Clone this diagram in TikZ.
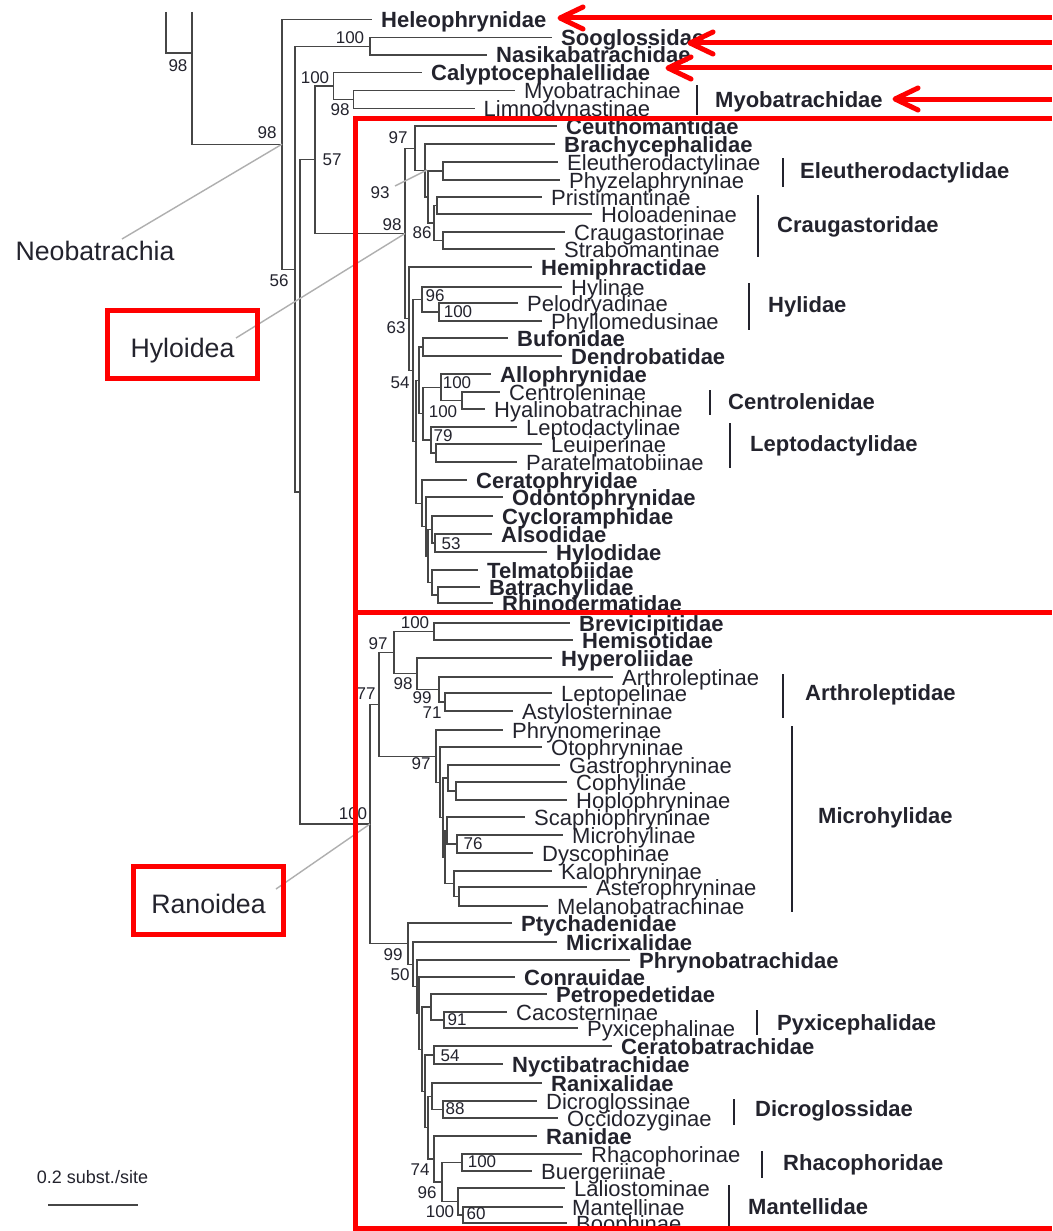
\documentclass[tikz,border=0pt]{standalone}
\usepackage{fontspec}
\setmainfont{Liberation Sans}
\usetikzlibrary{calc}
\definecolor{txt}{RGB}{35,35,45}
\definecolor{lin}{RGB}{70,70,70}
\definecolor{rd}{RGB}{255,0,0}
\definecolor{ptrc}{RGB}{175,175,175}
\begin{document}
\begin{tikzpicture}[x=1pt,y=-1pt,
  br/.style={draw=lin,line width=1.2pt},
  leafR/.style={anchor=west,inner xsep=9pt,inner ysep=0pt,text height=16pt,text depth=0pt,text=txt,font=\fontsize{22}{24}\selectfont},
  leafB/.style={leafR,font=\fontsize{22}{24}\selectfont\bfseries},
  sup/.style={inner sep=0pt,text=txt,font=\fontsize{17}{18}\selectfont},
  fam/.style={anchor=west,inner sep=0pt,text height=16pt,text depth=0pt,text=txt,font=\fontsize{22}{24}\selectfont\bfseries},
  fbar/.style={draw=txt,line width=2.6pt},
  clade/.style={text=txt,font=\fontsize{26.7}{28}\selectfont},
  cladebox/.style={clade,draw=rd,line width=5pt,minimum width=150pt,minimum height=68pt,inner sep=0pt,text height=26pt,text depth=0pt},
  ptr/.style={draw=ptrc,line width=1.4pt},
  redl/.style={draw=rd,line width=5pt},
  redarr/.style={draw=rd,line width=5pt,line cap=round,line join=round},
]
\useasboundingbox[fill=white] (0,0) rectangle (1052,1231);

% ---------- internal node coordinates ----------
\coordinate (ogA) at (166,12);
\coordinate (ogB) at (192,12);
\coordinate (ogC) at (192,53);
\coordinate (n282) at (282,144.2);
\coordinate (n295) at (295,269.1);
\coordinate (n300) at (300,491.9);
\coordinate (soo) at (370,46.4);
\coordinate (n315) at (315,159.7);
\coordinate (cal) at (333.5,85.9);
\coordinate (myo) at (353.5,99.5);
\coordinate (hyl) at (405,233.5);
\coordinate (ceu) at (415,148.25);
\coordinate (bra) at (425,170.5);
\coordinate (ec) at (428,197);
\coordinate (ele) at (443,171);
\coordinate (crB) at (434,223);
\coordinate (crA) at (437,205.5);
\coordinate (crC) at (443,240.5);
\coordinate (hem) at (409,318.8);
\coordinate (nhy) at (413,370.6);
\coordinate (hyli) at (422,299.5);
\coordinate (pp) at (439,312);
\coordinate (na) at (416,441.8);
\coordinate (g1) at (419,380.3);
\coordinate (bd) at (423,347);
\coordinate (hcl) at (423,413.6);
\coordinate (allo) at (441,387.25);
\coordinate (cen) at (462,400.5);
\coordinate (l1) at (431,440);
\coordinate (l2) at (436,453);
\coordinate (g2) at (422,503.25);
\coordinate (odo) at (426,526.5);
\coordinate (ncr) at (428,556);
\coordinate (cyc) at (432,529.5);
\coordinate (ah) at (435,543);
\coordinate (tel) at (432,582.5);
\coordinate (batr) at (438,595);
\coordinate (ran) at (370,824);
\coordinate (ru) at (379,704.4);
\coordinate (r97) at (394,652.6);
\coordinate (brev) at (434,631.5);
\coordinate (hyp) at (417,673.75);
\coordinate (arth) at (439,689.5);
\coordinate (ast) at (445,702);
\coordinate (mroot) at (436,756.1);
\coordinate (moto) at (440,782.3);
\coordinate (mb) at (443,817.6);
\coordinate (mgas) at (448,778);
\coordinate (mcoph) at (456,791);
\coordinate (ma) at (445,857.1);
\coordinate (msca) at (447,830.5);
\coordinate (mmic) at (457,844);
\coordinate (mkal) at (454,883.75);
\coordinate (mast) at (459,896.5);
\coordinate (pty) at (408,943.6);
\coordinate (mic) at (413,964.3);
\coordinate (phr) at (417,986.5);
\coordinate (con) at (419,1013.1);
\coordinate (pc) at (422,1049.2);
\coordinate (petro) at (431,1007);
\coordinate (pyx) at (444,1020);
\coordinate (cr) at (425,1091.3);
\coordinate (cer) at (434,1055);
\coordinate (rr) at (428,1127.6);
\coordinate (ranix) at (432,1096.25);
\coordinate (dic) at (443,1109.5);
\coordinate (rn) at (434,1159);
\coordinate (rm) at (442,1182);
\coordinate (rhac) at (462,1162.5);
\coordinate (mant1) at (458,1201.5);
\coordinate (mant2) at (463,1215);

% ---------- leaves ----------
\node[leafB] (heleo) at (372,19.3) {Heleophrynidae};
\node[leafB] (sooglo) at (552,37.7) {Sooglossidae};
\node[leafB] (nasika) at (487,55) {Nasikabatrachidae};
\node[leafB] (calyp) at (422,72.3) {Calyptocephalellidae};
\node[leafR] (myobi) at (515,90.7) {Myobatrachinae};
\node[leafR] (limno) at (474.5,108.3) {Limnodynastinae};

\node[leafB] (ceuth) at (557,126) {Ceuthomantidae};
\node[leafB] (brachy) at (555,144) {Brachycephalidae};
\node[leafR] (eleuth) at (558,162) {Eleutherodactylinae};
\node[leafR] (phyzel) at (560,180) {Phyzelaphryninae};
\node[leafR] (prist) at (542,197) {Pristimantinae};
\node[leafR] (holo) at (592,214) {Holoadeninae};
\node[leafR] (craug) at (565,232) {Craugastorinae};
\node[leafR] (strabo) at (555,249) {Strabomantinae};
\node[leafB] (hemiph) at (532,267) {Hemiphractidae};
\node[leafR] (hylin) at (562,287) {Hylinae};
\node[leafR] (pelo) at (518,303) {Pelodryadinae};
\node[leafR] (phyllo) at (542,321) {Phyllomedusinae};
\node[leafB] (bufo) at (508,338) {Bufonidae};
\node[leafB] (dendro) at (562,356) {Dendrobatidae};
\node[leafB] (allo_l) at (491,374) {Allophrynidae};
\node[leafR] (centr) at (500,392) {Centroleninae};
\node[leafR] (hyalino) at (485,409) {Hyalinobatrachinae};
\node[leafR] (leptod) at (517,427) {Leptodactylinae};
\node[leafR] (leuip) at (542,444) {Leuiperinae};
\node[leafR] (paratel) at (517,462) {Paratelmatobiinae};
\node[leafB] (cerato) at (467,480) {Ceratophryidae};
\node[leafB] (odonto) at (503,497) {Odontophrynidae};
\node[leafB] (cyclo) at (493,516) {Cycloramphidae};
\node[leafB] (alsod) at (492,534) {Alsodidae};
\node[leafB] (hylod) at (547,552) {Hylodidae};
\node[leafB] (telma) at (478,570) {Telmatobiidae};
\node[leafB] (batrl) at (480,587) {Batrachylidae};
\node[leafB] (rhino) at (493,603) {Rhinodermatidae};

\node[leafB] (brevi) at (570,623) {Brevicipitidae};
\node[leafB] (hemis) at (573,640) {Hemisotidae};
\node[leafB] (hyper) at (552,658) {Hyperoliidae};
\node[leafR] (arthl) at (613,677) {Arthroleptinae};
\node[leafR] (leptop) at (552,693) {Leptopelinae};
\node[leafR] (astyl) at (513,711) {Astylosterninae};
\node[leafR] (phrym) at (503,730) {Phrynomerinae};
\node[leafR] (otoph) at (542,747) {Otophryninae};
\node[leafR] (gastr) at (560,765) {Gastrophryninae};
\node[leafR] (cophy) at (567,782) {Cophylinae};
\node[leafR] (hoplo) at (567,800) {Hoplophryninae};
\node[leafR] (scaph) at (525,817) {Scaphiophryninae};
\node[leafR] (micrh) at (563,835) {Microhylinae};
\node[leafR] (dysco) at (533,853) {Dyscophinae};
\node[leafR] (kalop) at (552,871) {Kalophryninae};
\node[leafR] (aster) at (587,887) {Asterophryninae};
\node[leafR] (melan) at (548,906) {Melanobatrachinae};
\node[leafB] (ptych) at (512,923) {Ptychadenidae};
\node[leafB] (micrx) at (557,942) {Micrixalidae};
\node[leafB] (phryb) at (630,960) {Phrynobatrachidae};
\node[leafB] (conra) at (515,977) {Conrauidae};
\node[leafB] (petrp) at (547,994) {Petropedetidae};
\node[leafR] (cacos) at (507,1012) {Cacosterninae};
\node[leafR] (pyxil) at (578,1028) {Pyxicephalinae};
\node[leafB] (cerat) at (612,1046) {Ceratobatrachidae};
\node[leafB] (nyctb) at (503,1064) {Nyctibatrachidae};
\node[leafB] (ranix_l) at (542,1083) {Ranixalidae};
\node[leafR] (dicrl) at (537,1101) {Dicroglossinae};
\node[leafR] (occid) at (558,1118) {Occidozyginae};
\node[leafB] (ranid) at (537,1136) {Ranidae};
\node[leafR] (rhacl) at (582,1154) {Rhacophorinae};
\node[leafR] (buerg) at (532,1171) {Buergeriinae};
\node[leafR] (lalio) at (565,1188) {Laliostominae};
\node[leafR] (mantl) at (563,1207) {Mantellinae};
\node[leafR] (booph) at (567,1223) {Boophinae};

% ---------- branches ----------
\draw[br] (ogA) |- (ogC);
\draw[br] (ogB) |- (n282);
\foreach \p/\c in {n282/heleo,n282/n295,n295/soo,n295/n300,soo/sooglo,soo/nasika,
  n300/n315,n300/ran,n315/cal,n315/hyl,cal/calyp,cal/myo,myo/myobi,myo/limno,
  hyl/ceu,hyl/hem,ceu/ceuth,ceu/bra,bra/brachy,bra/ec,ec/ele,ec/crB,ele/eleuth,ele/phyzel,
  crB/crA,crB/crC,crA/prist,crA/holo,crC/craug,crC/strabo,hem/hemiph,hem/nhy,
  nhy/hyli,nhy/na,hyli/hylin,hyli/pp,pp/pelo,pp/phyllo,na/g1,na/g2,g1/bd,g1/hcl,
  bd/bufo,bd/dendro,hcl/allo,hcl/l1,allo/allo_l,allo/cen,cen/centr,cen/hyalino,
  l1/leptod,l1/l2,l2/leuip,l2/paratel,g2/cerato,g2/odo,odo/odonto,odo/ncr,
  ncr/cyc,ncr/tel,cyc/cyclo,cyc/ah,ah/alsod,ah/hylod,tel/telma,tel/batr,batr/batrl,batr/rhino}
  \draw[br] (\p) |- (\c);
\foreach \p/\c in {ran/ru,ran/pty,ru/r97,ru/mroot,r97/brev,r97/hyp,brev/brevi,brev/hemis,
  hyp/hyper,hyp/arth,arth/arthl,arth/ast,ast/leptop,ast/astyl,mroot/phrym,mroot/moto,
  moto/otoph,moto/mb,mb/mgas,mb/ma,mgas/gastr,mgas/mcoph,mcoph/cophy,mcoph/hoplo,
  ma/msca,ma/mkal,msca/scaph,msca/mmic,mmic/micrh,mmic/dysco,mkal/kalop,mkal/mast,
  mast/aster,mast/melan,pty/ptych,pty/mic,mic/micrx,mic/phr,phr/phryb,phr/con,
  con/conra,con/pc,pc/petro,pc/cr,petro/petrp,petro/pyx,pyx/cacos,pyx/pyxil,
  cr/cer,cr/rr,cer/cerat,cer/nyctb,rr/ranix,rr/rn,ranix/ranix_l,ranix/dic,
  dic/dicrl,dic/occid,rn/ranid,rn/rm,rm/rhac,rm/mant1,rhac/rhacl,rhac/buerg,
  mant1/lalio,mant1/mant2,mant2/mantl,mant2/booph}
  \draw[br] (\p) |- (\c);

% ---------- support values ----------
\foreach \x/\y/\t [count=\i] in {178/66/98,267/133/98,350/38/100,315/78/100,340/110/98,
  332/160/57,279/281/56,398/138/97,380/193/93,392/225/98,422/233/86,435/296/96,
  458/312/100,396/328/63,400/383/54,457/383/100,443/412/100,443/436/79,451/544/53,
  353/814/100,415/623/100,378/644/97,366/694/77,403/684/98,422/698/99,432/713/71,
  421/764/97,473/844/76,393/955/99,400/975/50,457/1020/91,450/1056/54,455/1109/88,
  482/1162/100,420/1170/74,427/1193/96,440/1212/100,476/1214/60}
  \node[sup] (s\i) at (\x,\y) {\t};

% ---------- family brackets ----------
\foreach \bx/\ya/\yb/\tx/\ty/\t [count=\i] in {
  697/85/115/715/99/Myobatrachidae,
  783/158/187/800/170/Eleutherodactylidae,
  758/195/257/777/224/Craugastoridae,
  749/283/330/768/304/Hylidae,
  710/390/415/728/401/Centrolenidae,
  730/423/468/750/443/Leptodactylidae,
  783/674/718/805/692/Arthroleptidae,
  792/726/912/818/815/Microhylidae,
  757/1010/1035/777/1022/Pyxicephalidae,
  734/1099/1125/755/1108/Dicroglossidae,
  762/1151/1178/783/1162/Rhacophoridae,
  729/1185/1231/748/1206/Mantellidae}
{
  \coordinate (fa\i) at (\bx,\ya);
  \coordinate (fb\i) at (\bx,\yb);
  \draw[fbar] (fa\i) -- (fb\i);
  \node[fam] (f\i) at (\tx,\ty) {\t};
}

% ---------- clade labels and pointers ----------
\node[clade] (neo) at (95,251) {Neobatrachia};
\coordinate (neoP) at (122,239);
\draw[ptr] (neoP) -- (n282);
\coordinate (p93a) at (395,186);
\coordinate (p93b) at (427,170);
\draw[ptr] (p93a) -- (p93b);
\coordinate (hylP) at (236,338);
\draw[ptr] (hylP) -- (hyl);
\coordinate (ranP) at (276,889);
\draw[ptr] (ranP) -- (ran);
\node[cladebox] (hylbox) at (182.5,344.5) {Hyloidea};
\node[cladebox] (ranbox) at (208.5,900.5) {Ranoidea};

% ---------- scale bar ----------
\node[sup,font=\fontsize{18}{20}\selectfont] (sbt) at (92.5,1177) {0.2 subst./site};
\coordinate (sb1) at (48,1205);
\coordinate (sb2) at (138,1205);
\draw[br] (sb1) -- (sb2);

% ---------- red boxes ----------
\coordinate (rA) at (1052,118);
\coordinate (rB) at (355,118);
\coordinate (rC) at (355,1228);
\coordinate (rD) at (1052,1228);
\coordinate (rE) at (355,612);
\coordinate (rF) at (1052,612);
\draw[redl] (rA) -- (rB) -- (rC) -- (rD);
\draw[redl] (rE) -- (rF);

% ---------- red arrows ----------
\foreach \tx/\ty [count=\i] in {560/18,690/43,668/68,895/99}{
  \coordinate (as\i) at (1052,\ty);
  \coordinate (at\i) at (\tx,\ty);
  \draw[redarr,line cap=butt] (as\i) -- (at\i);
  \draw[redarr] ($(at\i)+(23,-11)$) -- (at\i) -- ($(at\i)+(23,11)$);
}
\end{tikzpicture}
\end{document}
